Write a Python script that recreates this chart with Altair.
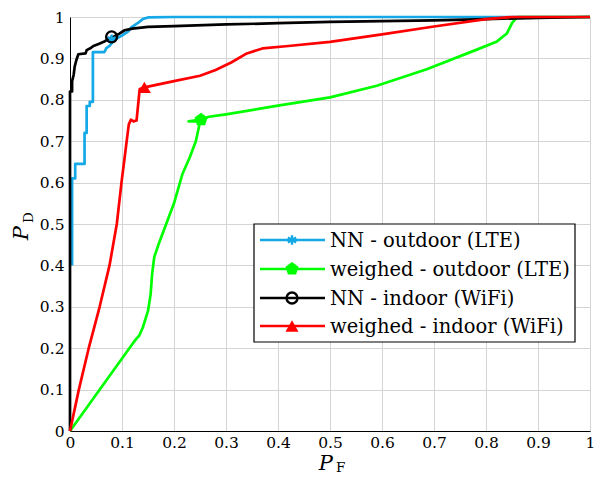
import altair as alt
import pandas as pd

# ---- data ----
nn_out_x = [0.004, 0.004, 0.01, 0.01, 0.028, 0.028, 0.032, 0.032, 0.038, 0.038, 0.044, 0.044,
            0.066, 0.07, 0.076, 0.082, 0.092, 0.1, 0.112, 0.118, 0.13, 0.14, 0.15, 0.2, 1.0]
nn_out_y = [0.40, 0.61, 0.61, 0.645, 0.645, 0.72, 0.72, 0.785, 0.785, 0.795, 0.795, 0.915,
            0.915, 0.925, 0.93, 0.94, 0.95, 0.955, 0.965, 0.975, 0.985, 0.995, 0.999, 1.0, 1.0]

w_out_x = [0.0, 0.06, 0.12, 0.127, 0.133, 0.14, 0.15, 0.155, 0.158, 0.162, 0.17, 0.185, 0.2,
           0.216, 0.23, 0.242, 0.248, 0.25, 0.228, 0.252, 0.267, 0.3, 0.4, 0.5, 0.59, 0.686,
           0.78, 0.82, 0.84, 0.85, 0.86, 1.0]
w_out_y = [0.0, 0.105, 0.21, 0.222, 0.23, 0.25, 0.29, 0.33, 0.38, 0.42, 0.45, 0.5, 0.55,
           0.62, 0.66, 0.70, 0.735, 0.748, 0.748, 0.752, 0.759, 0.765, 0.786, 0.806, 0.834, 0.874,
           0.92, 0.94, 0.96, 0.985, 1.0, 1.0]

nn_in_x = [0.0, 0.0, 0.004, 0.004, 0.007, 0.009, 0.012, 0.016, 0.03, 0.032, 0.04, 0.045, 0.055,
           0.065, 0.075, 0.085, 0.095, 0.105, 0.12, 0.15, 0.2, 0.3, 0.4, 0.5, 0.6, 0.7, 0.8, 0.9, 1.0]
nn_in_y = [0.0, 0.82, 0.82, 0.845, 0.86, 0.88, 0.895, 0.91, 0.912, 0.92, 0.925, 0.93, 0.935,
           0.94, 0.948, 0.953, 0.96, 0.968, 0.972, 0.976, 0.978, 0.982, 0.985, 0.988, 0.99, 0.992,
           0.995, 0.998, 1.0]

w_in_x = [0.0, 0.017, 0.036, 0.057, 0.076, 0.09, 0.099, 0.109, 0.113, 0.117, 0.122, 0.128,
          0.134, 0.143, 0.2, 0.25, 0.28, 0.31, 0.34, 0.37, 0.42, 0.5, 0.6, 0.7, 0.8, 0.85, 1.0]
w_in_y = [0.0, 0.1, 0.2, 0.3, 0.4, 0.5, 0.6, 0.7, 0.74, 0.752, 0.748, 0.75, 0.826, 0.83,
          0.845, 0.858, 0.872, 0.89, 0.912, 0.924, 0.93, 0.94, 0.958, 0.977, 0.995, 1.0, 1.0]

series_names = ["NN - outdoor (LTE)", "weighed - outdoor (LTE)",
                "NN - indoor (WiFi)", "weighed - indoor (WiFi)"]
series_colors = ["#14A9E6", "#00FF00", "#000000", "#FF0000"]
marker_x = [0.08, 0.252, 0.08, 0.143]
marker_y = [0.946, 0.752, 0.952, 0.83]
tick_values = [0, 0.1, 0.2, 0.3, 0.4, 0.5, 0.6, 0.7, 0.8, 0.9, 1]

PENTAGON = "M0,-1L0.951,-0.309L0.588,0.809L-0.588,0.809L-0.951,-0.309Z"
ASTERISK = "M0,-1L0,1M-0.866,-0.5L0.866,0.5M-0.866,0.5L0.866,-0.5"
shapes = [ASTERISK, PENTAGON, "circle", "triangle-up"]
filled = [False, True, False, True]
msizes = [90, 190, 120, 170]

FONT = "DejaVu Serif"
W, H = 520, 414

xs = alt.Scale(domain=[0, 1], nice=False, zero=False)
ys = alt.Scale(domain=[0, 1], nice=False, zero=False)
xaxis = alt.Axis(values=tick_values, format="~g", grid=True, gridColor="#d4d4d4",
                 gridWidth=1, ticks=False, domainColor="black", labelFont=FONT,
                 labelFontSize=15.5, labelColor="black", labelPadding=4, labelFlush=False,
                 title=None)
yaxis = alt.Axis(values=tick_values, format="~g", grid=True, gridColor="#d4d4d4",
                 gridWidth=1, ticks=False, domainColor="black", labelFont=FONT,
                 labelFontSize=15.5, labelColor="black", labelPadding=6, labelFlush=False,
                 title=None)

data = [(nn_out_x, nn_out_y), (w_out_x, w_out_y), (nn_in_x, nn_in_y), (w_in_x, w_in_y)]

layers = []
for k, (xv, yv) in enumerate(data):
    df = pd.DataFrame({"x": xv, "y": yv, "i": list(range(len(xv)))})
    enc = dict(x=alt.X("x:Q", scale=xs, axis=xaxis),
               y=alt.Y("y:Q", scale=ys, axis=yaxis),
               order="i:Q")
    layers.append(alt.Chart(df).mark_line(color=series_colors[k], strokeWidth=2.7,
                                          strokeJoin="round").encode(**enc))
for k in range(4):
    mdf = pd.DataFrame({"x": [marker_x[k]], "y": [marker_y[k]]})
    layers.append(alt.Chart(mdf).mark_point(shape=shapes[k], filled=filled[k],
                                            color=series_colors[k], size=msizes[k],
                                            strokeWidth=2.4, opacity=1).encode(
        x=alt.X("x:Q", scale=xs, axis=xaxis), y=alt.Y("y:Q", scale=ys, axis=yaxis)))

# ---- legend (drawn by hand) ----
one = pd.DataFrame({"a": [0]})
layers.append(alt.Chart(one).mark_rect(fill="white", stroke="black", strokeWidth=1.2).encode(
    x=alt.value(184), x2=alt.value(505), y=alt.value(207), y2=alt.value(325)))
row_y = [223, 252, 281, 309]
for k in range(4):
    ldf = pd.DataFrame({"label": [series_names[k]]})
    layers.append(alt.Chart(ldf).mark_rule(color=series_colors[k], strokeWidth=2.7).encode(
        x=alt.value(190), x2=alt.value(255), y=alt.value(row_y[k])))
    layers.append(alt.Chart(ldf).mark_point(shape=shapes[k], filled=filled[k],
                                            color=series_colors[k], size=msizes[k],
                                            strokeWidth=2.4, opacity=1).encode(
        x=alt.value(222), y=alt.value(row_y[k])))
    layers.append(alt.Chart(ldf).mark_text(align="left", baseline="middle", font=FONT,
                                           fontSize=19.5, color="black").encode(
        x=alt.value(260), y=alt.value(row_y[k] + 1), text="label:N"))

# ---- axis titles P_F and P_D ----
tdf = pd.DataFrame({"p": ["P"], "f": ["F"], "d": ["D"]})
layers.append(alt.Chart(tdf).mark_text(font=FONT, fontSize=21, fontStyle="italic",
                                       color="black", baseline="middle", align="right").encode(
    x=alt.value(263), y=alt.value(447), text="p:N"))
layers.append(alt.Chart(tdf).mark_text(font=FONT, fontSize=13.5, color="black",
                                       baseline="middle", align="left").encode(
    x=alt.value(266), y=alt.value(451), text="f:N"))
layers.append(alt.Chart(tdf).mark_text(font=FONT, fontSize=21, fontStyle="italic",
                                       color="black", baseline="middle", angle=270,
                                       align="right").encode(
    x=alt.value(-48), y=alt.value(209), text="p:N"))
layers.append(alt.Chart(tdf).mark_text(font=FONT, fontSize=13.5, color="black",
                                       baseline="middle", angle=270, align="left").encode(
    x=alt.value(-41), y=alt.value(206), text="d:N"))

chart = alt.layer(*layers).properties(
    width=W, height=H,
    autosize=alt.AutoSizeParams(type="none"),
    padding={"left": 62, "top": 9, "right": 5, "bottom": 45},
).configure_view(stroke="black", strokeWidth=1.2).configure(background="white")

chart.save("out.html", embed_options={"renderer": "svg", "actions": False})
